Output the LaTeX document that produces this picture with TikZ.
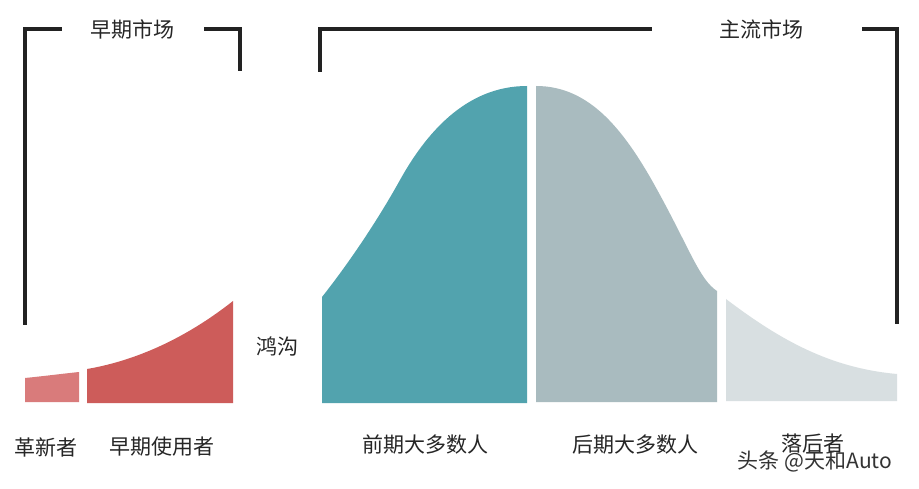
\documentclass[tikz,border=0pt]{standalone}
\usepackage{fontspec}
\setmainfont{Noto Sans CJK SC}
\definecolor{innov}{HTML}{D97B7B}
\definecolor{early}{HTML}{CD5C5A}
\definecolor{teal2}{HTML}{52A3AE}
\definecolor{late}{HTML}{A9BBBF}
\definecolor{lagg}{HTML}{D8DFE1}
\definecolor{brk}{HTML}{222222}
\begin{document}
\begin{tikzpicture}[x=1pt,y=-1pt,
  bracket/.style={draw=brk,line width=3.5pt},
  lbl/.style={font=\fontsize{21}{24}\selectfont,text=black!85,inner sep=0pt}]
\useasboundingbox[fill=white] (0,0) rectangle (919,489);
% brackets
\draw[bracket] (25,325) -- (25,29) -- (62,29);
\draw[bracket] (204,29) -- (240,29) -- (240,71);
\draw[bracket] (320,72) -- (320,29) -- (652,29);
\draw[bracket] (862,29) -- (897,29) -- (897,324);
\node[lbl] (em) at (132,29) {早期市场};
\node[lbl] (mm) at (761,29) {主流市场};
% shapes
\fill[innov] (25,402) -- (25,378) .. controls (45,376) and (60,374) .. (79,372) -- (79,402) -- cycle;
\fill[early] (87,403) -- (87,369) .. controls (140,360) and (190,335) .. (233,301) -- (233,403) -- cycle;
\fill[teal2] (322,403) -- (322,297) .. controls (345,268) and (375,225) .. (400,180)
   .. controls (425,135) and (465,86) .. (527,86) -- (527,403) -- cycle;
\fill[late] (536,402) -- (536,86) .. controls (590,86) and (625,130) .. (660,195)
   .. controls (690,250) and (700,280) .. (717,291) -- (717,402) -- cycle;
\fill[lagg] (726,401) -- (726,299) .. controls (780,340) and (830,368) .. (897,374) -- (897,401) -- cycle;
% labels
\node[lbl] (gap) at (277,346) {鸿沟};
\node[lbl] (l1) at (46,447) {革新者};
\node[lbl] (l2) at (162,447) {早期使用者};
\node[lbl] (l3) at (425,445) {前期大多数人};
\node[lbl] (l4) at (635,445) {后期大多数人};
\node[lbl] (l5) at (813,444) {落后者};
\node[lbl,text=black!80] (wm) at (815,461) {头条 @天和Auto};
\end{tikzpicture}
\end{document}
